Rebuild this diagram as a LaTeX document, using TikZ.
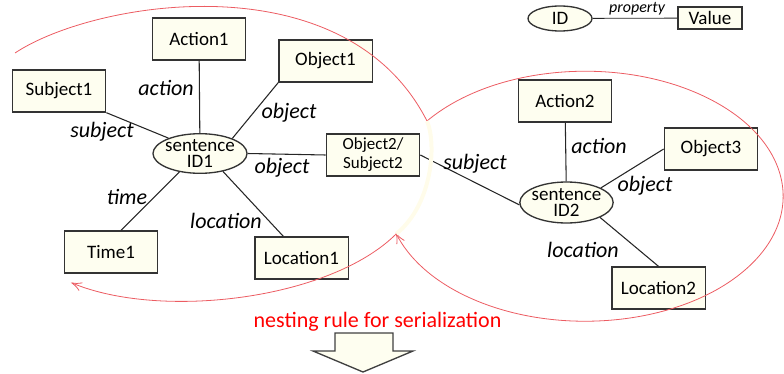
\documentclass[tikz,border=0pt]{standalone}
\usepackage{fontspec}
\setmainfont{Carlito}
\usetikzlibrary{shapes.geometric}
\definecolor{boxfill}{RGB}{254,254,240}
\definecolor{loopred}{RGB}{236,92,98}
\definecolor{palecream}{RGB}{255,252,234}
\tikzset{
  entity/.style = {draw = black!80, fill = boxfill, line width = 1pt, minimum width = 70pt, minimum height = 31.5pt, inner sep = 0pt, font = \fontsize{14.25}{17}\selectfont},
  sentence/.style = {ellipse, draw = black!80, fill = boxfill, line width = 1pt, inner xsep = -3pt, inner ysep = 0pt, align = center, font = \fontsize{14.25}{12}\selectfont},
  role/.style = {inner sep = 0pt, font = \fontsize{16.5}{18}\selectfont\itshape},
  link/.style = {draw = black!85, line width = 0.8pt},
  redloop/.style = {draw = loopred, line width = 0.6pt}
}
\begin{document}
\begin{tikzpicture}[x = 0.75pt, y = 0.75pt, yscale = -1, xscale = 1]
\useasboundingbox (0, 0) rectangle (784, 374);
\node [entity] (act1) at (199, 39) {Action1};
\node [entity] (obj1) at (325.5, 61) {Object1};
\node [entity] (sub1) at (59, 91) {Subject1};
\node [sentence, minimum width = 70.5pt, minimum height = 27.75pt] (sen1) at (200, 153.5) {sentence\\ID1};
\node [entity, align = center, font = \fontsize{12.75}{14.25}\selectfont] (obj2) at (373, 155) {Object2/\\Subject2};
\node [entity] (tim1) at (111, 252) {Time1};
\node [entity] (loc1) at (301.5, 258) {Location1};
\node [entity] (act2) at (565, 101) {Action2};
\node [entity] (obj3) at (711, 149) {Object3};
\node [sentence, minimum width = 70pt, minimum height = 30.75pt, font = \fontsize{14.25}{12.5}\selectfont] (sen2) at (566.5, 202.5) {sentence\\ID2};
\node [entity] (loc2) at (658.5, 288) {Location2};
\node [sentence, minimum width = 48pt, minimum height = 18.75pt] (idk) at (560, 18.5) {ID};
\node [entity, minimum width = 48pt, minimum height = 16.5pt] (val) at (710, 18) {Value};
\draw [link] (act1) -- (sen1);
\draw [link] (obj1.south west) -- (sen1.25);
\draw [link] (sub1.south east) -- (sen1.154);
\draw [link] (sen1.east) -- (obj2.west);
\draw [link] (tim1.65) -- (sen1.222);
\draw [link] (loc1.130) -- (sen1.322);
\draw [link] (obj2.east) -- (sen2.183);
\draw [link] (act2) -- (sen2);
\draw [link] (obj3.west) -- (sen2.23);
\draw [link] (sen2.336) -- (loc2.north);
\draw [link, line width = 0.6pt] (idk) -- (val);
\node [role] (lact1) at (166, 88) {action};
\node [role] (lobj1) at (289, 113) {object};
\node [role] (lsub1) at (102, 132) {subject};
\node [role] (lobj2) at (282, 168) {object};
\node [role] (ltim1) at (127, 197) {time};
\node [role] (lloc1) at (226, 221) {location};
\node [role] (lsub2) at (475, 164) {subject};
\node [role] (lact2) at (599, 146) {action};
\node [role] (lobj3) at (645, 186) {object};
\node [role] (lloc2) at (583, 250) {location};
\node [inner sep = 0pt, font = \fontsize{12}{14}\selectfont\itshape] (lprop) at (637, 9) {property};
\node [inner sep = 0pt, text = red, font = \fontsize{16.5}{18}\selectfont] (rule) at (377.5, 322) {nesting rule for serialization};
\draw [draw = black!75, fill = boxfill, line width = 1pt] (335, 333) -- (393, 333) -- (393, 351) -- (413, 351) -- (363, 372) -- (313, 351) -- (335, 351) -- cycle;
\coordinate (cusp) at (427, 121);
\draw [redloop] (cusp) arc [start angle = 217, end angle = 522.5, x radius = 198, y radius = 125] coordinate (rend);
\draw [shift = {(rend)}, rotate = 63.5][redloop] (9.5, -4.2) .. controls (6, -1.9) and (2.9, -0.45) .. (0, 0) .. controls (2.9, 0.45) and (6, 1.9) .. (9.5, 4.2);
\draw [redloop] (15, 53) .. controls (95, 0) and (345, -40) .. (cusp);
\draw [draw = palecream, line width = 3pt] (cusp) .. controls (437, 145) and (432, 205) .. (rend);
\draw [redloop] (rend) .. controls (330, 300) and (160, 320) .. (72, 283);
\draw [shift = {(72, 283)}, rotate = 22.8][redloop] (9.5, -4.2) .. controls (6, -1.9) and (2.9, -0.45) .. (0, 0) .. controls (2.9, 0.45) and (6, 1.9) .. (9.5, 4.2);
\end{tikzpicture}
\end{document}
